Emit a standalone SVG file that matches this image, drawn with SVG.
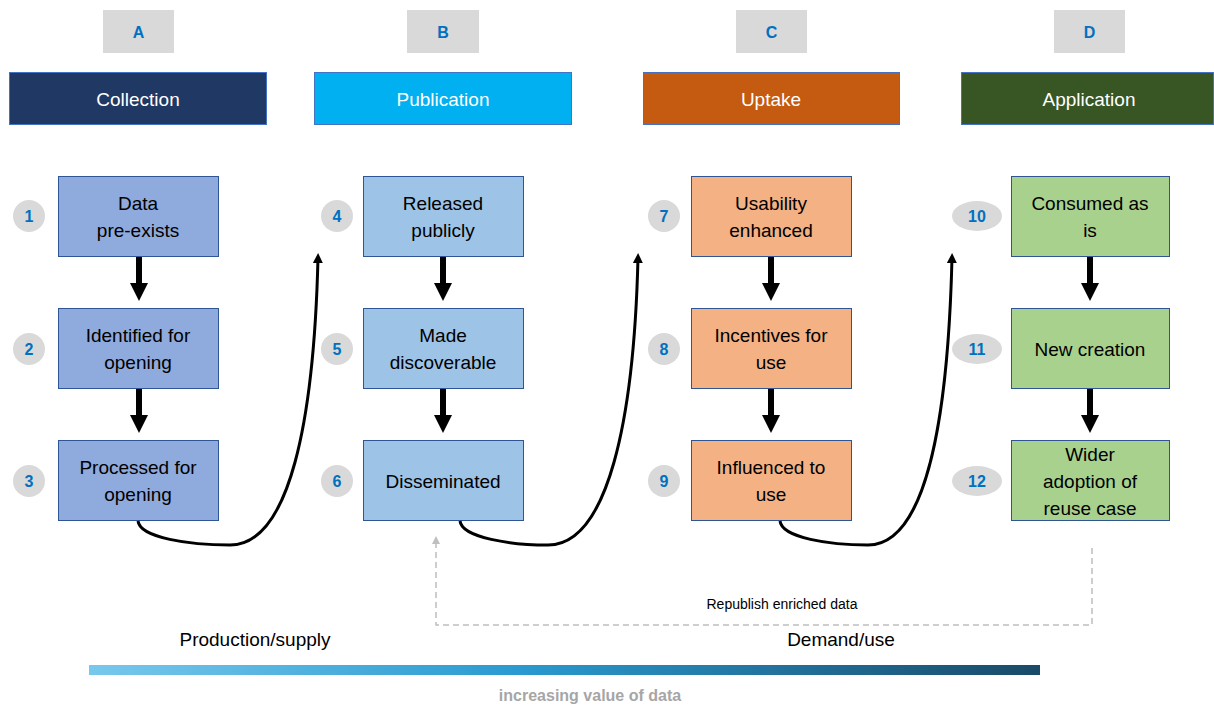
<svg xmlns="http://www.w3.org/2000/svg" width="1214" height="705" viewBox="0 0 1214 705">
<style>
text{font-family:"Liberation Sans","Noto Sans",sans-serif;}
.letter{fill:#d9d9d9;}
.lt{fill:#0070c0;font-weight:bold;font-size:16px;text-anchor:middle;}
.hdr{stroke:#4472c4;stroke-width:1;}
.ht{fill:#ffffff;font-size:19px;text-anchor:middle;}
.node{stroke:#2f5597;stroke-width:1;}
.nt{fill:#000000;font-size:19px;text-anchor:middle;}
.num{fill:#d9d9d9;}
.nn{fill:#0070c0;font-weight:bold;font-size:16px;text-anchor:middle;}
.down{stroke:#000;stroke-width:6;}
.curve{fill:none;stroke:#000;stroke-width:3;}
</style>
<defs>
<marker id="ah" markerWidth="10" markerHeight="10" refX="5" refY="5" orient="auto" markerUnits="userSpaceOnUse"><path d="M0,0 L10,5 L0,10 z" fill="#000"/></marker>
<marker id="gh" markerWidth="8" markerHeight="8" refX="4" refY="4" orient="auto" markerUnits="userSpaceOnUse"><path d="M0,0 L8,4 L0,8 z" fill="#bfbfbf"/></marker>
<linearGradient id="grad" x1="0" y1="0" x2="1" y2="0">
<stop offset="0" stop-color="#78c8ec"/>
<stop offset="0.45" stop-color="#2a9ad0"/>
<stop offset="1" stop-color="#1a4a68"/>
</linearGradient>
<symbol id="dn" overflow="visible"><line x1="0" y1="0" x2="0" y2="28" class="down"/><path d="M-9,26 L9,26 L0,44 z" fill="#000"/></symbol>
</defs>

<g id="label-A"><rect class="letter" x="103" y="10" width="71" height="43"/><text class="lt" x="138.5" y="38">A</text></g>
<g id="label-B"><rect class="letter" x="407" y="10" width="72" height="43"/><text class="lt" x="443" y="38">B</text></g>
<g id="label-C"><rect class="letter" x="736" y="10" width="71" height="43"/><text class="lt" x="771.5" y="38">C</text></g>
<g id="label-D"><rect class="letter" x="1054" y="10" width="71" height="43"/><text class="lt" x="1089.5" y="38">D</text></g>

<g id="hdr-collection"><rect class="hdr" x="9.5" y="72.5" width="257" height="52" fill="#203864"/><text class="ht" x="138" y="106">Collection</text></g>
<g id="hdr-publication"><rect class="hdr" x="314.5" y="72.5" width="257" height="52" fill="#00b0f0"/><text class="ht" x="443" y="106">Publication</text></g>
<g id="hdr-uptake"><rect class="hdr" x="643.5" y="72.5" width="256" height="52" fill="#c55a11"/><text class="ht" x="771" y="106">Uptake</text></g>
<g id="hdr-application"><rect class="hdr" x="961.5" y="72.5" width="252" height="52" fill="#375623"/><text class="ht" x="1089" y="106">Application</text></g>

<g id="n1"><ellipse class="num" cx="29" cy="216" rx="16" ry="16"/><text class="nn" x="29" y="222">1</text><rect class="node" x="58.5" y="176.5" width="160" height="80" fill="#8faadc"/><text class="nt" x="138" y="210">Data</text><text class="nt" x="138" y="237">pre-exists</text></g>
<g id="n2"><ellipse class="num" cx="29" cy="349" rx="16" ry="16"/><text class="nn" x="29" y="355">2</text><rect class="node" x="58.5" y="308.5" width="160" height="80" fill="#8faadc"/><text class="nt" x="138" y="342">Identified for</text><text class="nt" x="138" y="369">opening</text></g>
<g id="n3"><ellipse class="num" cx="29" cy="481" rx="16" ry="16"/><text class="nn" x="29" y="487">3</text><rect class="node" x="58.5" y="440.5" width="160" height="80" fill="#8faadc"/><text class="nt" x="138" y="474">Processed for</text><text class="nt" x="138" y="501">opening</text></g>

<g id="n4"><ellipse class="num" cx="337" cy="216" rx="16" ry="16"/><text class="nn" x="337" y="222">4</text><rect class="node" x="363.5" y="176.5" width="160" height="80" fill="#9dc3e6"/><text class="nt" x="443" y="210">Released</text><text class="nt" x="443" y="237">publicly</text></g>
<g id="n5"><ellipse class="num" cx="337" cy="349" rx="16" ry="16"/><text class="nn" x="337" y="355">5</text><rect class="node" x="363.5" y="308.5" width="160" height="80" fill="#9dc3e6"/><text class="nt" x="443" y="342">Made</text><text class="nt" x="443" y="369">discoverable</text></g>
<g id="n6"><ellipse class="num" cx="337" cy="481" rx="16" ry="16"/><text class="nn" x="337" y="487">6</text><rect class="node" x="363.5" y="440.5" width="160" height="80" fill="#9dc3e6"/><text class="nt" x="443" y="488">Disseminated</text></g>

<g id="n7"><ellipse class="num" cx="664" cy="216" rx="16" ry="16"/><text class="nn" x="664" y="222">7</text><rect class="node" x="691.5" y="176.5" width="160" height="80" fill="#f4b183"/><text class="nt" x="771" y="210">Usability</text><text class="nt" x="771" y="237">enhanced</text></g>
<g id="n8"><ellipse class="num" cx="664" cy="349" rx="16" ry="16"/><text class="nn" x="664" y="355">8</text><rect class="node" x="691.5" y="308.5" width="160" height="80" fill="#f4b183"/><text class="nt" x="771" y="342">Incentives for</text><text class="nt" x="771" y="369">use</text></g>
<g id="n9"><ellipse class="num" cx="664" cy="481" rx="16" ry="16"/><text class="nn" x="664" y="487">9</text><rect class="node" x="691.5" y="440.5" width="160" height="80" fill="#f4b183"/><text class="nt" x="771" y="474">Influenced to</text><text class="nt" x="771" y="501">use</text></g>

<g id="n10"><ellipse class="num" cx="977" cy="216" rx="25" ry="15"/><text class="nn" x="977" y="222">10</text><rect class="node" x="1011.5" y="176.5" width="158" height="80" fill="#a9d18e"/><text class="nt" x="1090" y="210">Consumed as</text><text class="nt" x="1090" y="237">is</text></g>
<g id="n11"><ellipse class="num" cx="977" cy="349" rx="25" ry="15"/><text class="nn" x="977" y="355">11</text><rect class="node" x="1011.5" y="308.5" width="158" height="80" fill="#a9d18e"/><text class="nt" x="1090" y="356">New creation</text></g>
<g id="n12"><ellipse class="num" cx="977" cy="481" rx="25" ry="15"/><text class="nn" x="977" y="487">12</text><rect class="node" x="1011.5" y="440.5" width="158" height="80" fill="#a9d18e"/><text class="nt" x="1090" y="461">Wider</text><text class="nt" x="1090" y="488">adoption of</text><text class="nt" x="1090" y="515">reuse case</text></g>

<g id="connectors">
<use href="#dn" x="139" y="257"/>
<use href="#dn" x="139" y="389"/>
<use href="#dn" x="443" y="257"/>
<use href="#dn" x="443" y="389"/>
<use href="#dn" x="771" y="257"/>
<use href="#dn" x="771" y="389"/>
<use href="#dn" x="1090" y="257"/>
<use href="#dn" x="1090" y="389"/>
<path class="curve" d="M138,521 C140,538 190,545 230,545 C290,545 314,420 318,258" marker-end="url(#ah)"/>
<path class="curve" d="M460,521 C462,538 512,545 548,545 C608,545 634,420 638,258" marker-end="url(#ah)"/>
<path class="curve" d="M780,521 C782,538 830,545 868,545 C926,545 948,420 952,258" marker-end="url(#ah)"/>
<path d="M1092,548 L1092,625 L436,625 L436,540" fill="none" stroke="#bfbfbf" stroke-width="1.5" stroke-dasharray="6,4" marker-end="url(#gh)"/>
</g>

<text x="782" y="609" font-size="14" text-anchor="middle" fill="#000">Republish enriched data</text>
<text x="255" y="646" font-size="19" text-anchor="middle" fill="#000">Production/supply</text>
<text x="841" y="646" font-size="19" text-anchor="middle" fill="#000">Demand/use</text>
<rect x="89" y="665" width="951" height="10" fill="url(#grad)"/>
<text x="590" y="701" font-size="16" font-weight="bold" text-anchor="middle" fill="#a6a6a6">increasing value of data</text>
</svg>
